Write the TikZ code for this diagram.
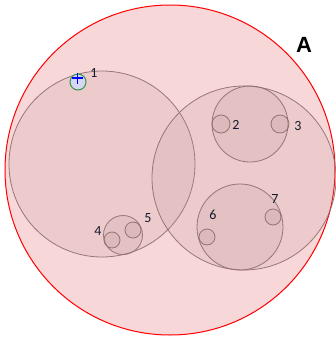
\documentclass[tikz,border=0pt]{standalone}
\usepackage{fontspec}
\setmainfont{Carlito}
\newfontfamily\afont{Liberation Sans}
\definecolor{bigfill}{RGB}{248,215,216}
\definecolor{edge}{RGB}{140,110,112}
\definecolor{setfill}{RGB}{190,150,155}
\tikzset{
  setc/.style={draw=edge, line width=0.8pt, fill=setfill, fill opacity=0.18, draw opacity=0.9},
  lbl/.style={font=\fontsize{14}{14}\selectfont, text={rgb,255:red,20;green,25;blue,45}, inner sep=0pt},
}
\begin{document}
\begin{tikzpicture}[x=1pt,y=-1pt]
\useasboundingbox (0,0) rectangle (336,338);
\fill[white] (0,0) rectangle (336,338);
\path[draw=red, line width=1pt, fill=bigfill] (170,170) circle (165) coordinate (bigA);
\path[setc] (102,164) circle (93);
\path[setc] (244,178) circle (92);
\path[setc] (250,124) circle (38);
\path[setc] (221,124) circle (9);
\path[setc] (280,124) circle (9);
\path[setc] (240,227) circle (43);
\path[setc] (207,237) circle (8);
\path[setc] (273,217) circle (8);
\path[setc] (123,235) circle (19.5);
\path[setc] (112,240) circle (8);
\path[setc] (133,230) circle (8);
\path[draw={rgb,255:red,50;green,150;blue,70}, line width=1pt, fill={rgb,255:red,214;green,214;blue,245}] (78,82) circle (8);
\draw[blue, line width=1.2pt] (72,78) -- (83,78) (77.5,72.5) -- (77.5,84);
\node[lbl] (l1) at (94,73) {1};
\node[lbl] (l2) at (236,125) {2};
\node[lbl] (l3) at (298,126) {3};
\node[lbl] (l4) at (98,231) {4};
\node[lbl] (l5) at (148,218) {5};
\node[lbl] (l6) at (213,215) {6};
\node[lbl] (l7) at (275,199) {7};
\node[inner sep=0pt, font=\afont\bfseries\fontsize{22}{22}\selectfont] (lA) at (304,45) {A};
\end{tikzpicture}
\end{document}
